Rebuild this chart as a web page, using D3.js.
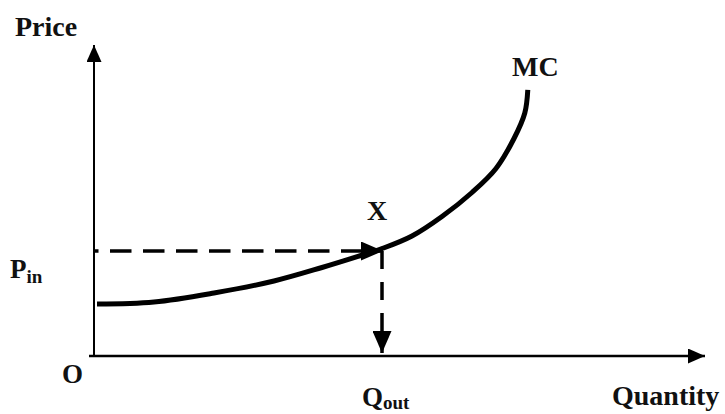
<!DOCTYPE html>
<html lang="en">
<head>
  <meta charset="UTF-8">
  <title>MC curve</title>
  <script src="https://d3js.org/d3.v7.min.js"></script>
  <style>
    body { margin: 0; background: #fff; }
    text { font-family: "Liberation Serif", "Times New Roman", serif; font-weight: bold; fill: #111; }
  </style>
</head>
<body>
  <div id="chart"></div>
  <script>
    // MC curve points (quantity, price)
    const mcQty   = [0.5, 10, 20, 30, 38, 44, 48, 53, 58, 63, 67, 70, 71.8, 72.3];
    const mcPrice = [17.3, 18.0, 21.0, 25.0, 29.5, 33.2, 35.8, 40.0, 46.5, 54.5, 62.5, 72.5, 81, 88.7];
    // point X
    const pIn = 35, qOut = 48;

    const width = 725, height = 414;
    const svg = d3.select("#chart").append("svg")
      .attr("width", width).attr("height", height);

    const x = d3.scaleLinear().domain([0, 100]).range([94, 694]);
    const y = d3.scaleLinear().domain([0, 100]).range([356, 56]);

    const defs = svg.append("defs");
    function marker(id, len, wid) {
      defs.append("marker")
        .attr("id", id)
        .attr("viewBox", `0 0 ${len} ${wid}`)
        .attr("refX", len).attr("refY", wid / 2)
        .attr("markerWidth", len).attr("markerHeight", wid)
        .attr("markerUnits", "userSpaceOnUse")
        .attr("orient", "auto")
        .append("path")
        .attr("d", `M0,0L${len},${wid / 2}L0,${wid}Z`)
        .attr("fill", "#000");
    }
    marker("axisArrow", 17, 15);
    marker("dashArrow", 22, 19);

    // axes
    svg.append("line")
      .attr("x1", x(0)).attr("y1", y(0))
      .attr("x2", x(0)).attr("y2", 45)
      .attr("stroke", "#000").attr("stroke-width", 2)
      .attr("marker-end", "url(#axisArrow)");
    svg.append("line")
      .attr("x1", x(0) - 5).attr("y1", y(0))
      .attr("x2", 705).attr("y2", y(0))
      .attr("stroke", "#000").attr("stroke-width", 2.5)
      .attr("marker-end", "url(#axisArrow)");

    // dashed arrows to and from X
    svg.append("line")
      .attr("x1", x(0)).attr("y1", y(pIn))
      .attr("x2", x(qOut) + 1).attr("y2", y(pIn))
      .attr("stroke", "#000").attr("stroke-width", 3.5)
      .attr("stroke-dasharray", "21.5,11.5").attr("stroke-dashoffset", 17)
      .attr("marker-end", "url(#dashArrow)");
    svg.append("line")
      .attr("x1", x(qOut)).attr("y1", y(pIn))
      .attr("x2", x(qOut)).attr("y2", y(0) - 3)
      .attr("stroke", "#000").attr("stroke-width", 3.5)
      .attr("stroke-dasharray", "18,13")
      .attr("marker-end", "url(#dashArrow)");

    // MC curve
    const mcData = mcQty.map((q, i) => [q, mcPrice[i]]);
    svg.append("path")
      .datum(mcData)
      .attr("d", d3.line().x(d => x(d[0])).y(d => y(d[1])).curve(d3.curveCatmullRom.alpha(0.5)))
      .attr("fill", "none").attr("stroke", "#000").attr("stroke-width", 5);

    // labels
    svg.append("text").attr("x", 15).attr("y", 36).style("font-size", "28px").text("Price");
    svg.append("text").attr("x", 512).attr("y", 76).style("font-size", "28px").text("MC");
    svg.append("text").attr("x", x(qOut) - 5).attr("y", 220).attr("text-anchor", "middle")
      .style("font-size", "28px").text("X");
    svg.append("text").attr("x", 62).attr("y", 383).style("font-size", "27px").text("O");
    svg.append("text").attr("x", 612).attr("y", 405).style("font-size", "28px").text("Quantity");

    const pl = svg.append("text").attr("x", 10).attr("y", 278).style("font-size", "27px");
    pl.append("tspan").text("P");
    pl.append("tspan").attr("dy", 5).style("font-size", "19px").text("in");

    const ql = svg.append("text").attr("x", 362).attr("y", 406).style("font-size", "27px");
    ql.append("tspan").text("Q");
    ql.append("tspan").attr("dy", 3).style("font-size", "19px").text("out");
  </script>
</body>
</html>
